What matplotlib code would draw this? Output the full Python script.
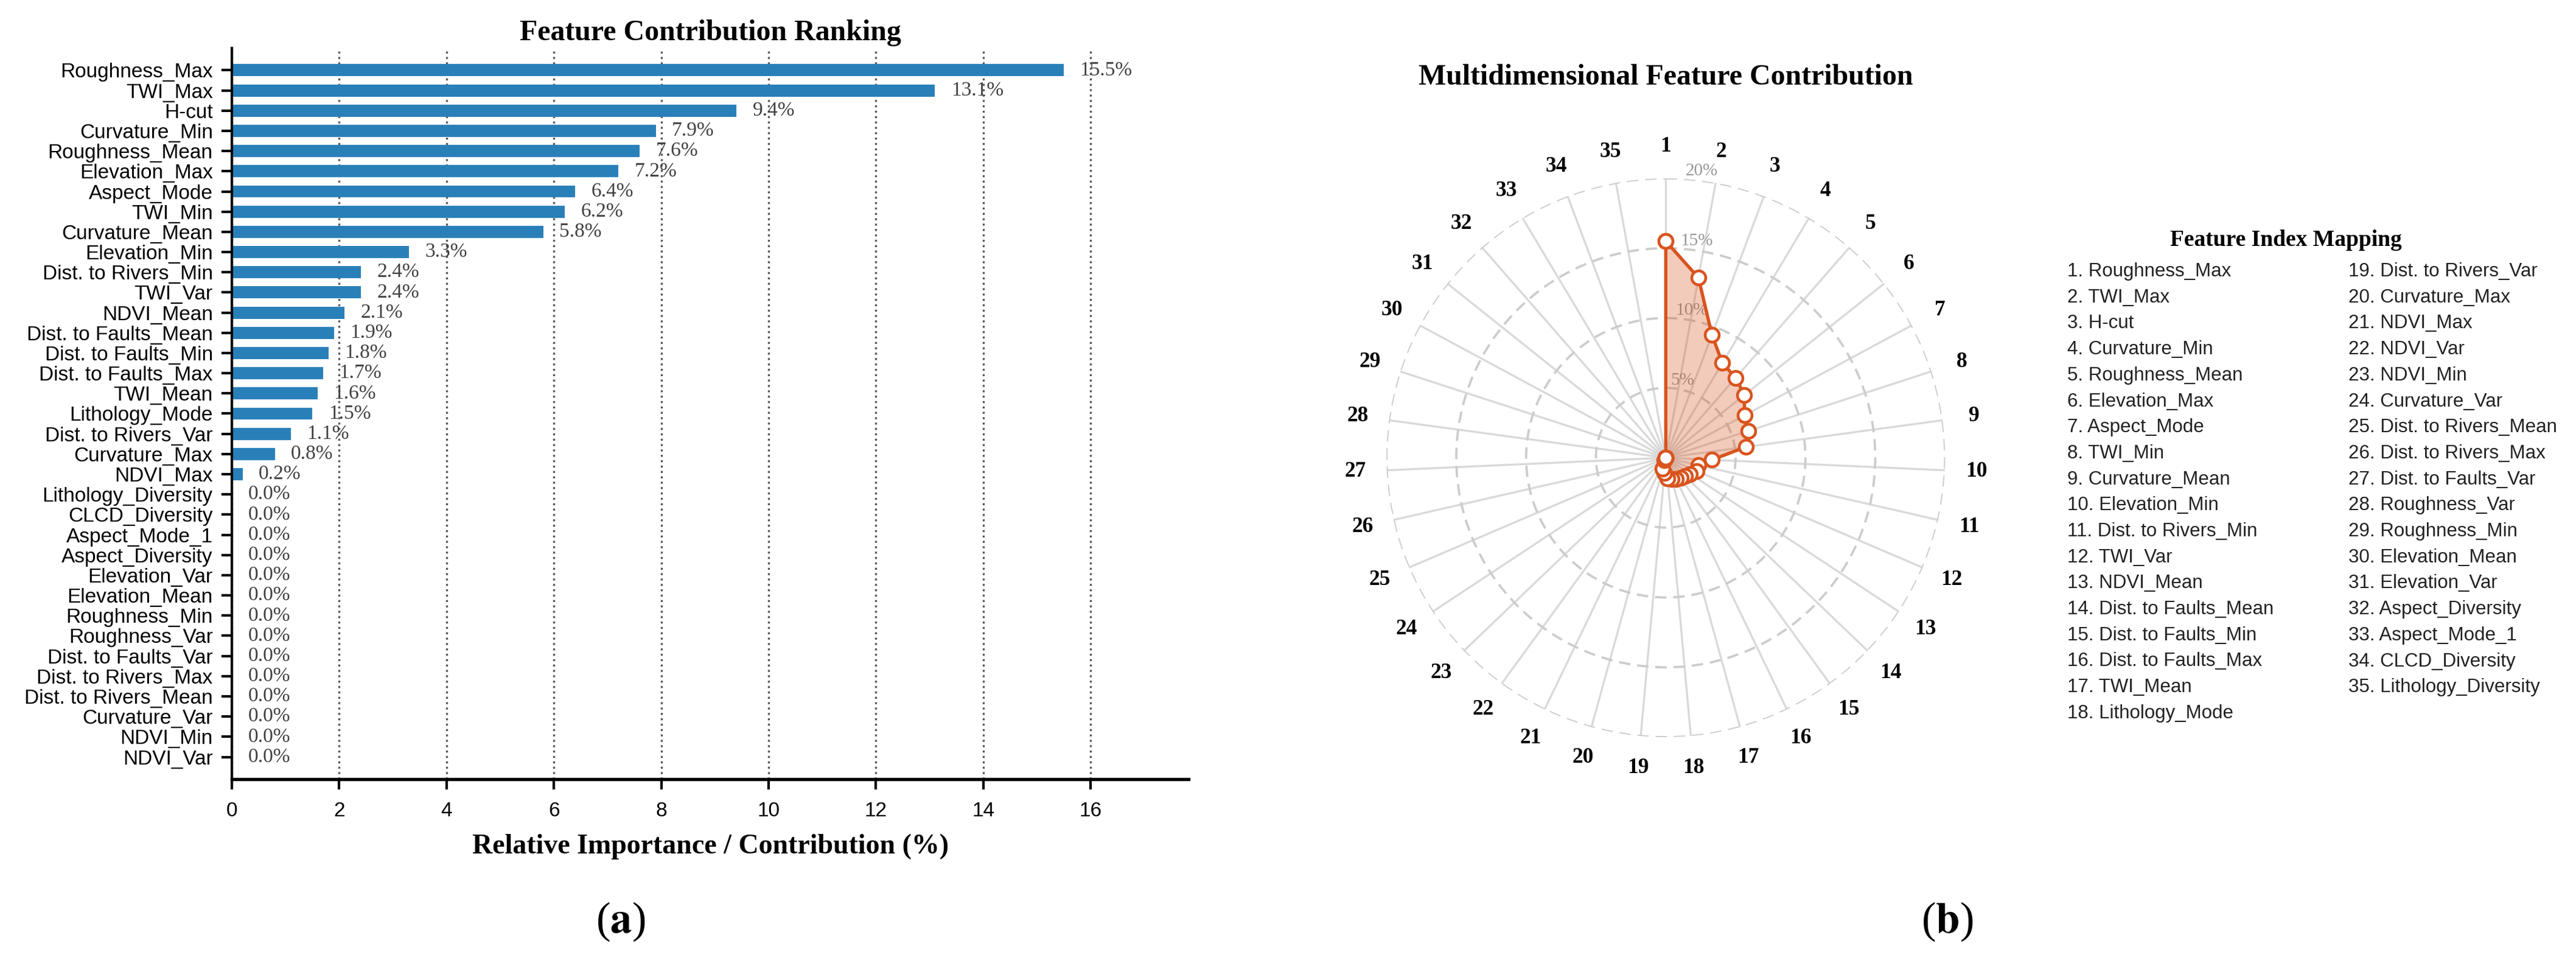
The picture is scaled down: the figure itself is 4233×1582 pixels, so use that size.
import numpy as np
import matplotlib
matplotlib.use('Agg')
import matplotlib.pyplot as plt

plt.rcParams['mathtext.fontset'] = 'stix'

SERIF = ['Liberation Serif', 'DejaVu Serif']
SANS = ['Liberation Sans', 'DejaVu Sans']

# feature index mapping order (1..35) and contribution in %
features = ['Roughness_Max', 'TWI_Max', 'H-cut', 'Curvature_Min', 'Roughness_Mean',
            'Elevation_Max', 'Aspect_Mode', 'TWI_Min', 'Curvature_Mean', 'Elevation_Min',
            'Dist. to Rivers_Min', 'TWI_Var', 'NDVI_Mean', 'Dist. to Faults_Mean',
            'Dist. to Faults_Min', 'Dist. to Faults_Max', 'TWI_Mean', 'Lithology_Mode',
            'Dist. to Rivers_Var', 'Curvature_Max', 'NDVI_Max', 'NDVI_Var', 'NDVI_Min',
            'Curvature_Var', 'Dist. to Rivers_Mean', 'Dist. to Rivers_Max',
            'Dist. to Faults_Var', 'Roughness_Var', 'Roughness_Min', 'Elevation_Mean',
            'Elevation_Var', 'Aspect_Diversity', 'Aspect_Mode_1', 'CLCD_Diversity',
            'Lithology_Diversity']
contrib = [15.5, 13.1, 9.4, 7.9, 7.6, 7.2, 6.4, 6.2, 5.8, 3.3,
           2.4, 2.4, 2.1, 1.9, 1.8, 1.7, 1.6, 1.5, 1.1, 0.8,
           0.2, 0.0, 0.0, 0.0, 0.0, 0.0, 0.0, 0.0, 0.0, 0.0,
           0.0, 0.0, 0.0, 0.0, 0.0]

# bar chart order, top to bottom
bar_order = features[:21] + features[21:][::-1]

value_of = dict(zip(features, contrib))
bar_vals = [value_of[f] for f in bar_order]

fig = plt.figure(figsize=(4233 / 300, 1582 / 300), dpi=300)

# ---------------- (a) ranking bar chart ----------------
ax1 = fig.add_axes([0.0900, 0.1909, 0.3714, 0.7592])
ypos = np.arange(len(bar_order))[::-1]
ax1.barh(ypos, bar_vals, height=0.6, color='#2980B9', zorder=2)
for yy, v in zip(ypos, bar_vals):
    ax1.text(v + 0.3, yy, f'{v:.1f}%', va='center', ha='left',
             fontsize=8, family=SERIF, color='#404040')

ax1.set_yticks(ypos)
ax1.set_yticklabels(bar_order, family=SANS, fontsize=8)
ax1.set_ylim(-1.1, len(bar_order) - 1 + 1.1)
ax1.set_xlim(0, max(contrib) * 1.15)
ax1.set_xticks(np.arange(0, 17, 2))
for lab in ax1.get_xticklabels():
    lab.set_family(SANS)
    lab.set_fontsize(8)
ax1.tick_params(axis='y', length=4, width=1, pad=3.5)
ax1.tick_params(axis='x', length=4, width=1, pad=5)
ax1.grid(axis='x', linestyle=':', linewidth=0.8, color='0.35')
ax1.set_axisbelow(True)
ax1.spines['top'].set_visible(False)
ax1.spines['right'].set_visible(False)
ax1.spines['left'].set_linewidth(1.0)
ax1.spines['bottom'].set_linewidth(1.3)
ax1.set_xlabel('Relative Importance / Contribution (%)', family=SERIF,
               fontweight='bold', fontsize=11, labelpad=5)
ax1.set_title('Feature Contribution Ranking', family=SERIF, fontweight='bold',
              fontsize=11.5, pad=3)

# ---------------- (b) radar chart ----------------
n = len(features)
angles = np.linspace(0, 2 * np.pi, n, endpoint=False)
ang_c = np.concatenate([angles, angles[:1]])
val_c = np.concatenate([contrib, contrib[:1]])

ax2 = fig.add_axes([0.5382, 0.2345, 0.2169, 0.5803], projection='polar')
ax2.set_theta_offset(np.pi / 2)
ax2.set_theta_direction(-1)
ax2.fill(ang_c, val_c, color='#D9541E', alpha=0.3, zorder=2)
ax2.plot(ang_c, val_c, color='#D9541E', linewidth=1.3, marker='o', markersize=5.5,
         markerfacecolor='white', markeredgecolor='#D9541E', markeredgewidth=1.1,
         zorder=3)

ax2.set_xticks(angles)
ax2.set_xticklabels([str(i + 1) for i in range(n)], family=SERIF,
                    fontweight='bold', fontsize=8.5)
ax2.tick_params(axis='x', pad=2)
ax2.set_ylim(0, 20)
ax2.set_yticks([5, 10, 15, 20])
ax2.set_yticklabels(['5%', '10%', '15%', '20%'], family=SERIF, fontsize=7,
                    color='#999999')
ax2.set_rlabel_position(4)
ax2.xaxis.grid(True, color='#d9d9d9', linestyle='-', linewidth=0.8)
ax2.yaxis.grid(True, color='#cccccc', linestyle=(0, (5, 3)), linewidth=0.9)
ax2.spines['polar'].set_visible(False)
ax2.set_title('Multidimensional Feature Contribution', family=SERIF,
              fontweight='bold', fontsize=11.5, y=1.168, pad=0)

# ---------------- feature index mapping ----------------
fig.text(3756 / 4233, 1 - 395 / 1582, 'Feature Index Mapping', family=SERIF,
         fontweight='bold', fontsize=9, ha='center', va='center')
for i, name in enumerate(features):
    col, row = (0, i) if i < 18 else (1, i - 18)
    x = (3397 if col == 0 else 3859) / 4233
    y = 1 - (446 + row * 42.7) / 1582
    fig.text(x, y, f'{i + 1}. {name}', family=SANS, fontsize=7.5,
             ha='left', va='center', color='#222222')

# panel letters
fig.text(1020 / 4233, 1 - 1514 / 1582, r'($\mathbf{a}$)', family=SERIF,
         fontsize=17, ha='center', va='center')
fig.text(3200 / 4233, 1 - 1514 / 1582, r'($\mathbf{b}$)', family=SERIF,
         fontsize=17, ha='center', va='center')

fig.savefig('out.png', dpi=300)
